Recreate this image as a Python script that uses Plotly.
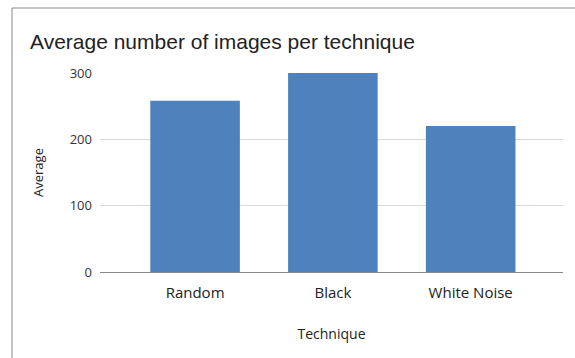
import plotly.graph_objects as go

categories = ["Random", "Black", "White Noise"]
values = [258, 300, 220]
y_ticks = [0, 100, 200, 300]

W, H = 575, 358
L, R, T, B = 100, 12, 73, 86
pw, ph = W - L - R, H - T - B

def px_x(p):
    return (p - L) / pw

def px_y(p):
    return (H - B - p) / ph

fig = go.Figure(go.Bar(x=categories, y=values, marker_color="#4f81bd",
                       marker_line_width=0, width=0.65))

fig.update_layout(
    width=W, height=H,
    margin=dict(l=L, r=R, t=T, b=B),
    paper_bgcolor="white", plot_bgcolor="white",
    showlegend=False,
    title=dict(text="Average number of images per technique",
               x=30 / W, xanchor="left", y=1 - 42 / H, yanchor="middle",
               font=dict(family="Liberation Sans, Arial", size=21, color="#222")),
    xaxis=dict(range=[-0.69, 2.67], showgrid=False, ticks="",
               ticklabelstandoff=10,
               tickfont=dict(family="Open Sans", size=15, color="#222"),
               title=dict(text="Technique", font=dict(family="Open Sans", size=14, color="#222"),
                          standoff=28)),
    yaxis=dict(range=[0, 300], tickvals=y_ticks, showgrid=True, gridcolor="#d9d9d9",
               zeroline=True, zerolinecolor="#888", zerolinewidth=1,
               ticks="", ticklen=0, ticklabelstandoff=7,
               tickfont=dict(family="Open Sans", size=13, color="#333"),
               title=dict(text="Average", font=dict(family="Open Sans", size=13, color="#222"),
                          standoff=23)),
    bargap=0.35,
)

fig.add_shape(type="line", xref="paper", yref="paper",
              x0=px_x(12), x1=px_x(12), y0=px_y(8), y1=px_y(400),
              line=dict(color="#888", width=1))
fig.add_shape(type="line", xref="paper", yref="paper",
              x0=px_x(12), x1=px_x(600), y0=px_y(8), y1=px_y(8),
              line=dict(color="#888", width=1))

fig.write_html("out.html")
